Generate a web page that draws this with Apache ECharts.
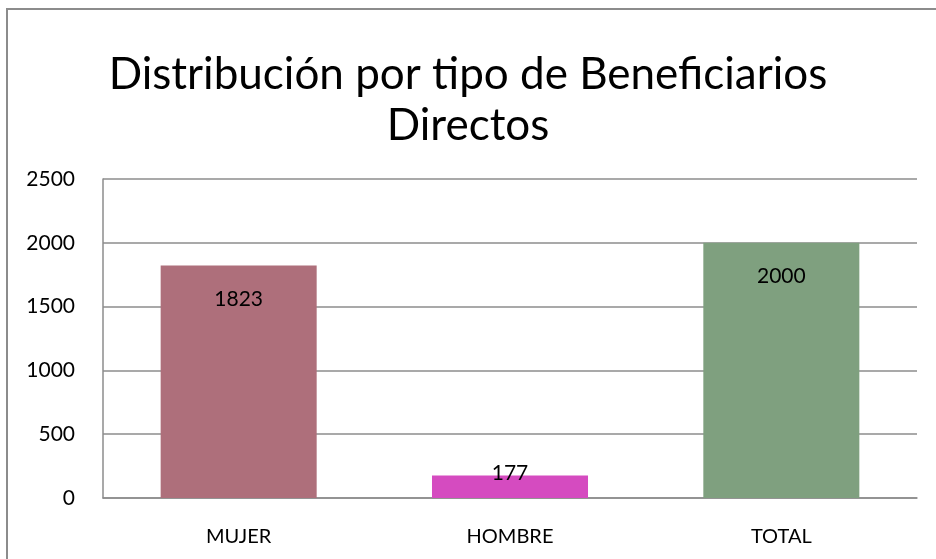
<!DOCTYPE html>
<html><head><meta charset="utf-8">
<script src="https://cdn.jsdelivr.net/npm/echarts@6/dist/echarts.min.js"></script>
<style>html,body{margin:0;padding:0;background:#fff}#c{width:936px;height:559px}</style>
</head><body><div id="c"></div>
<script>
const categories = ['MUJER', 'HOMBRE', 'TOTAL'];
const values = [1823, 177, 2000];
const barColors = ['#AE6F7B', '#D54BC0', '#7FA07F'];
const titleText = 'Distribución por tipo de Beneficiarios\nDirectos';

const FONT = 'Lato';
const chart = echarts.init(document.getElementById('c'));
const data = values.map((v, i) => {
  const item = { value: v, itemStyle: { color: barColors[i] } };
  if (v < 300) item.label = { position: 'top', distance: -8 };
  return item;
});
chart.setOption({
  animation: false,
  backgroundColor: '#fff',
  graphic: [{ type: 'rect', shape: { x: 7, y: 9, width: 960, height: 600 },
    style: { fill: 'none', stroke: '#8c8c8c', lineWidth: 2 }, silent: true }],
  title: { text: titleText, left: 'center', top: 44,
    textStyle: { fontFamily: FONT, fontSize: 44, fontWeight: 'normal', color: '#000', lineHeight: 51 } },
  grid: { left: 103, right: 19, top: 179, bottom: 61, containLabel: false },
  xAxis: { type: 'category', data: categories,
    axisLine: { lineStyle: { color: '#8c8c8c', width: 1.5 } },
    axisTick: { show: false },
    axisLabel: { fontFamily: FONT, fontSize: 20, color: '#000', margin: 29 } },
  yAxis: { type: 'value', min: 0, max: 2500, interval: 500,
    axisLine: { show: true, lineStyle: { color: '#8c8c8c', width: 1.5 } },
    axisTick: { show: false },
    splitLine: { lineStyle: { color: '#8c8c8c', width: 1.5 } },
    axisLabel: { fontFamily: FONT, fontSize: 21, color: '#000', margin: 28, formatter: v => String(v) } },
  series: [{ type: 'bar', data: data, barWidth: '57.5%',
    label: { show: true, position: 'insideTop', distance: 23, fontFamily: FONT, fontSize: 21, color: '#000' } }]
});
</script></body></html>
